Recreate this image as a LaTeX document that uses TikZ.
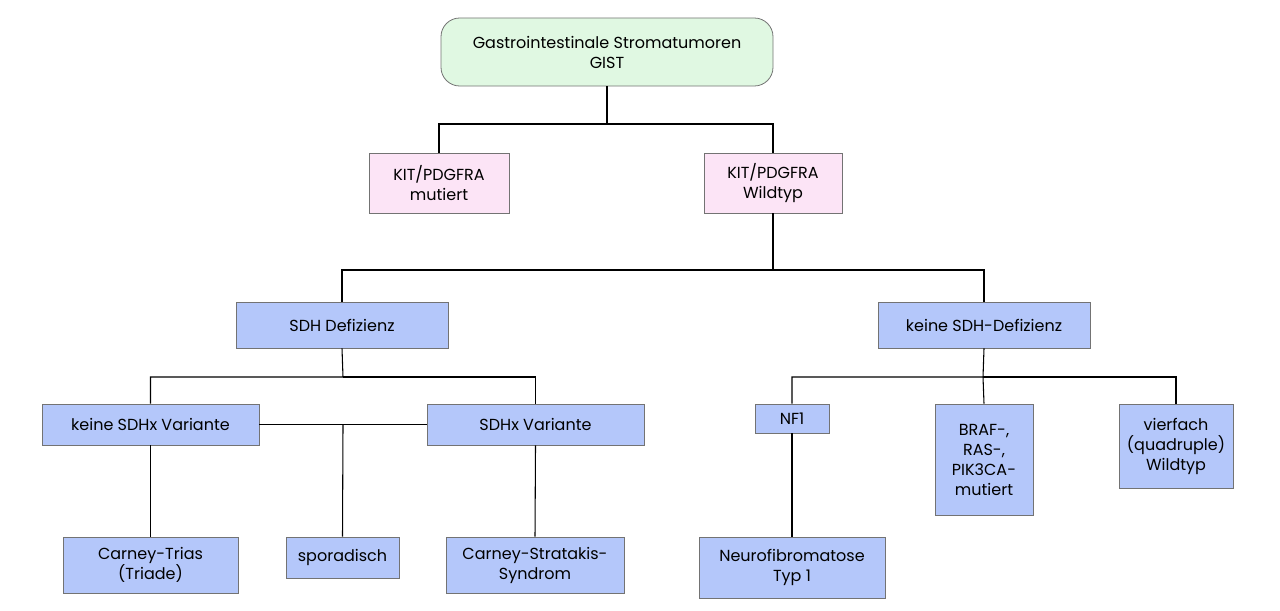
\documentclass[tikz,border=0pt]{standalone}
\usepackage{fontspec}
\setmainfont{Poppins}
\begin{document}
\begin{tikzpicture}[x=0.75pt,y=-0.75pt,
 bx/.style={draw=black!55,line width=0.6pt,align=center,inner sep=0pt,font=\fontsize{12}{15}\selectfont},
 bl/.style={bx,fill=blue!30!cyan!10!white,fill={rgb,255:red,180;green,199;blue,250}},
 pk/.style={bx,fill={rgb,255:red,252;green,228;blue,246}},
 ln/.style={draw=black,line width=0.8pt}]
\useasboundingbox (0,0) rectangle (1280,610);
\newcommand{\bxat}[6]{\node[#1,minimum width=#4*0.75pt-#2*0.75pt,minimum height=#5*0.75pt-#3*0.75pt] (#6) at ({(#2+#4)/2},{(#3+#5)/2})}
\bxat{bx,rounded corners=14pt,fill={rgb,255:red,224;green,248;blue,226}}{441}{18}{773}{86}{root}{Gastrointestinale Stromatumoren\\GIST};
\bxat{pk}{369}{153}{509}{213}{mut}{KIT/PDGFRA\\mutiert};
\bxat{pk}{704}{153}{842}{213}{wild}{KIT/PDGFRA\\Wildtyp};
\bxat{bl}{236}{302}{448}{348}{sdh}{SDH Defizienz};
\bxat{bl}{878}{302}{1090}{348}{ksdh}{keine SDH-Defizienz};
\bxat{bl}{42}{404}{259}{445}{ksdhx}{keine SDHx Variante};
\bxat{bl}{427}{404}{644}{445}{sdhx}{SDHx Variante};
\bxat{bl}{63}{537}{238}{593}{ct}{Carney-Trias\\(Triade)};
\bxat{bl}{286}{537}{399}{578}{spo}{sporadisch};
\bxat{bl}{446}{537}{624}{593}{cs}{Carney-Stratakis-\\Syndrom};
\bxat{bl}{755}{404}{829}{433}{nf}{NF1};
\bxat{bl}{699}{537}{885}{598}{neu}{Neurofibromatose\\Typ 1};
\bxat{bl}{935}{404}{1033}{515}{braf}{BRAF-,\\RAS-,\\PIK3CA-\\mutiert};
\bxat{bl}{1119}{404}{1233}{488}{vier}{vierfach\\(quadruple)\\Wildtyp};
\coordinate (m) at (343,425);
\draw[ln] (root.south) -- (607,124) -| (mut.north);
\draw[ln] (607,124) -| (wild.north);
\draw[ln] (wild.south) -- (773,270) -| (sdh.north);
\draw[ln] (773,270) -| (ksdh.north);
\draw[ln] (sdh.south) -- (343,377) -| (ksdhx.north);
\draw[ln] (343,377) -| (sdhx.north);
\draw[ln] (ksdh.south) -- (983,377) -| (nf.north);
\draw[ln] (983,377) -| (vier.north);
\draw[ln] (983,377) -- (braf.north);
\draw[ln] (ksdhx.east) -- (sdhx.west);
\draw[ln] (m) -- (spo.north);
\draw[ln] (ksdhx.south) -- (ct.north);
\draw[ln] (sdhx.south) -- (cs.north);
\draw[ln] (nf.south) -- (neu.north);
\end{tikzpicture}
\end{document}
